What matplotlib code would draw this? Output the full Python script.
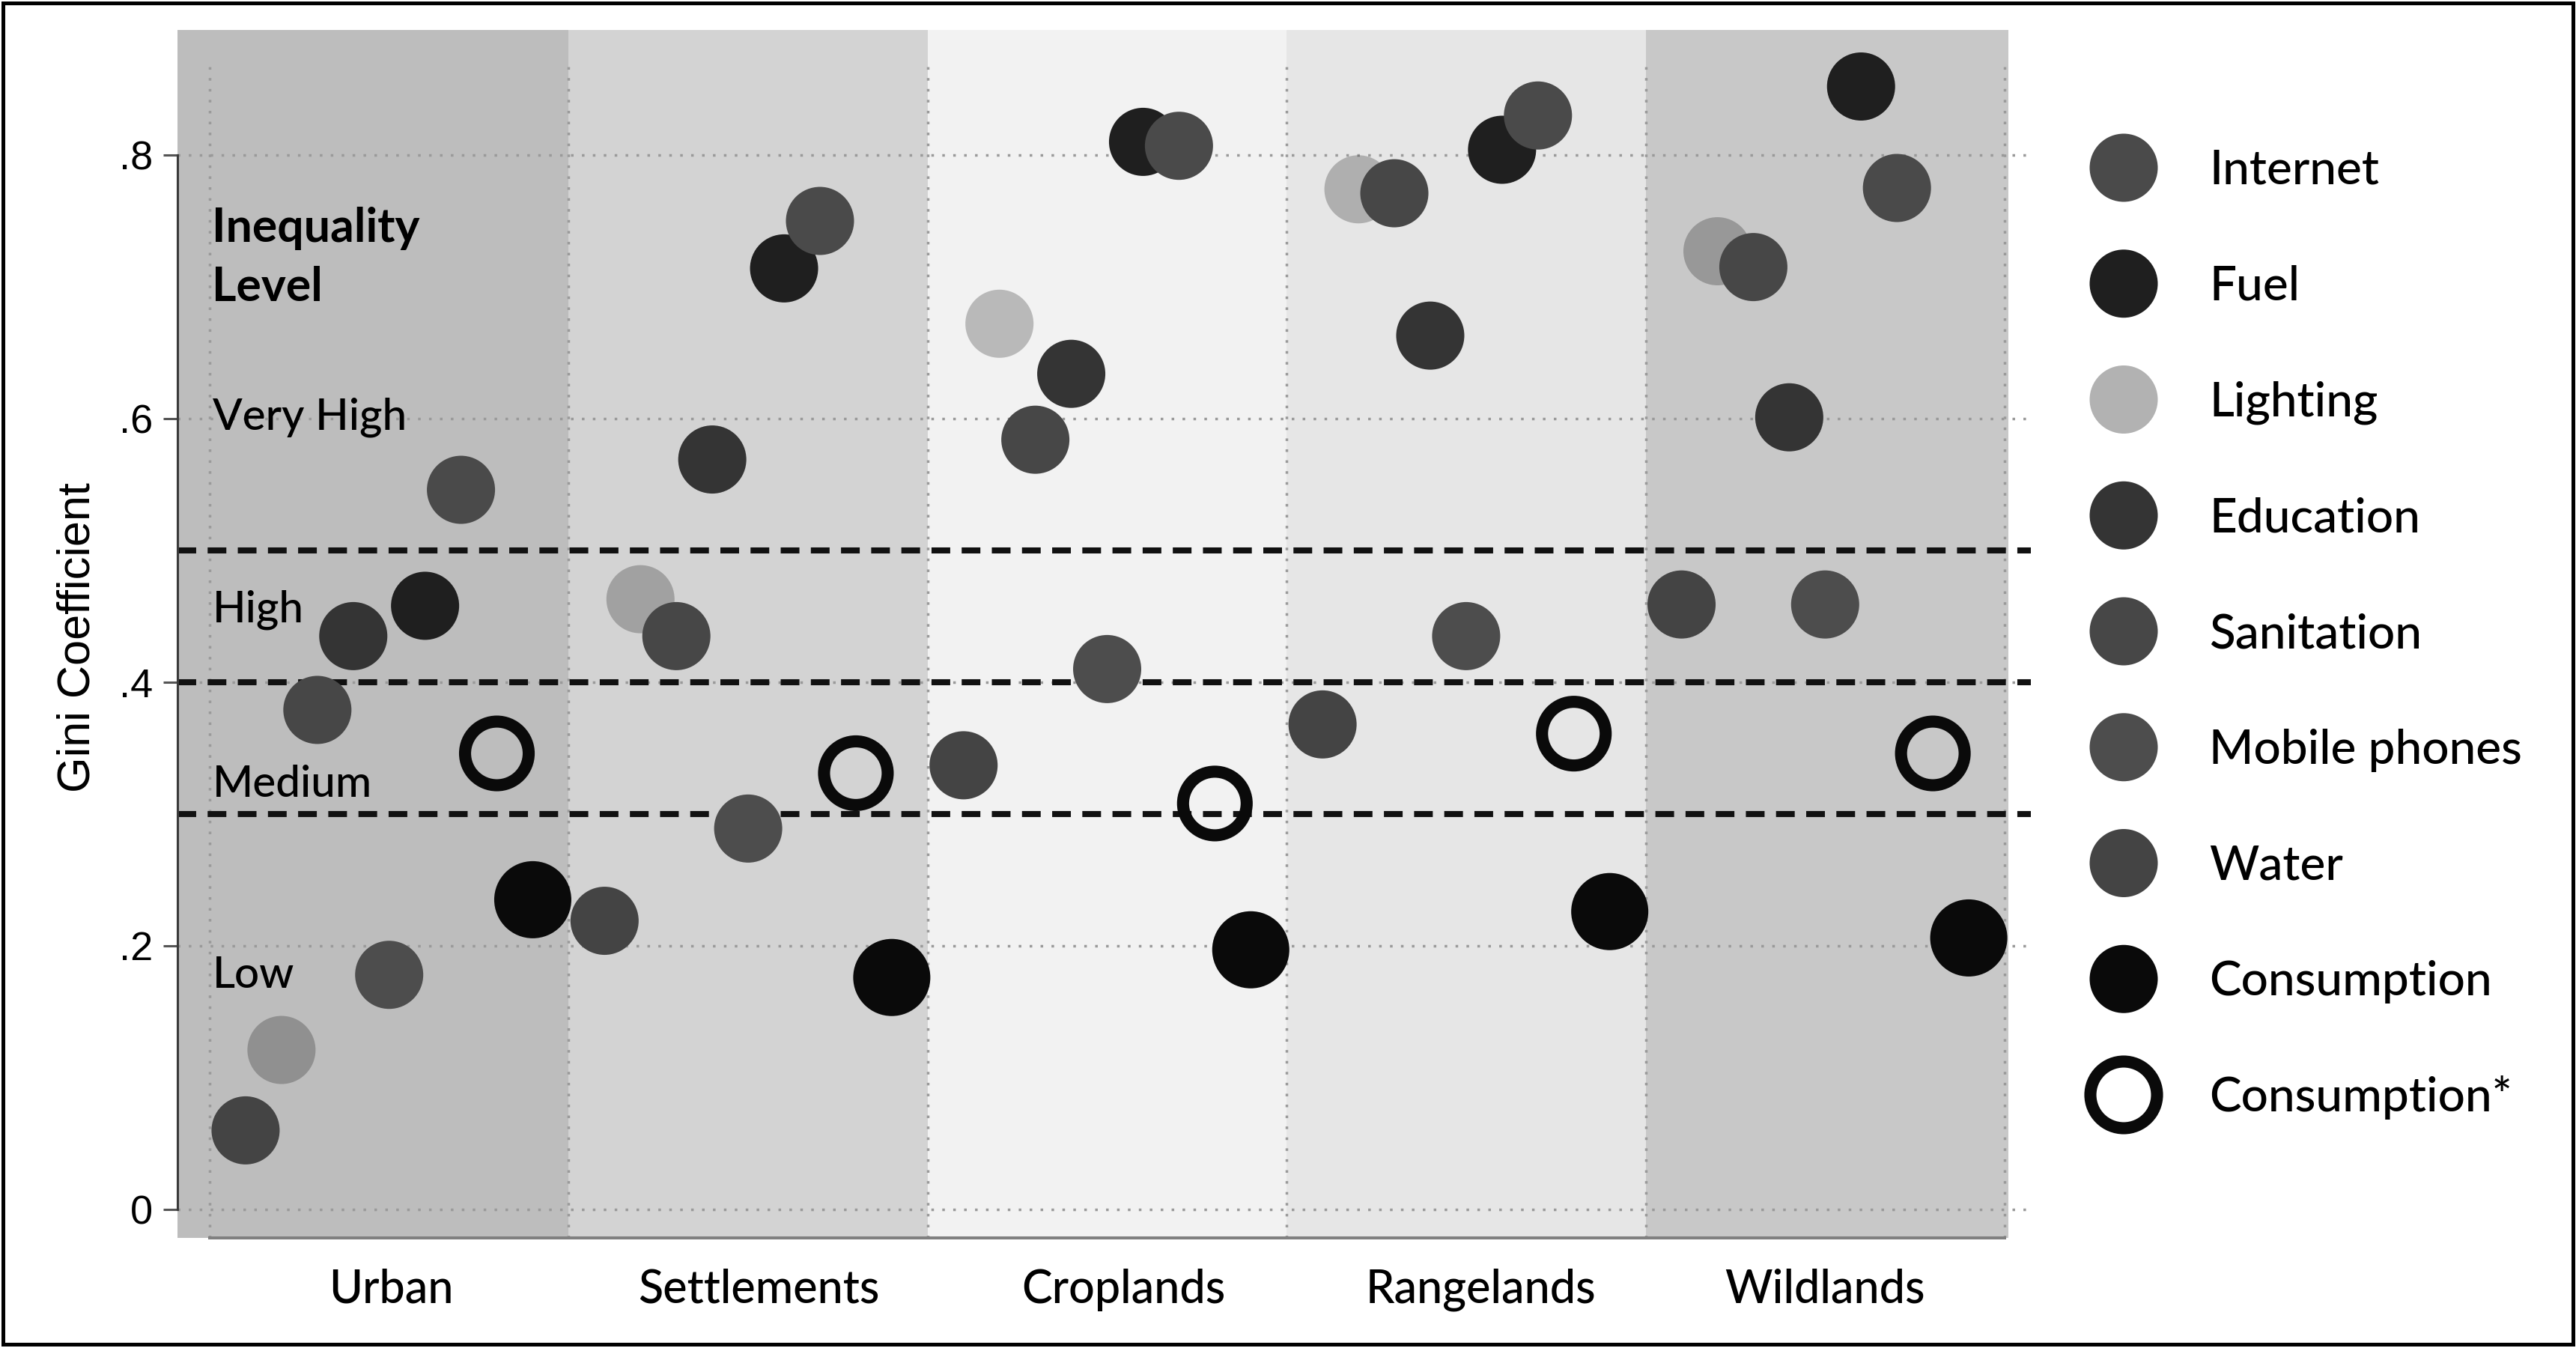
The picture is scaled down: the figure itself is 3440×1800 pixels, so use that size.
import matplotlib.pyplot as plt
from matplotlib.patches import Rectangle

# ---- data ----
categories = ["Urban", "Settlements", "Croplands", "Rangelands", "Wildlands"]

internet = [0.546, 0.750, 0.807, 0.830, 0.775]
fuel = [0.458, 0.714, 0.810, 0.804, 0.852]
lighting = [0.121, 0.463, 0.672, 0.774, 0.727]
education = [0.435, 0.569, 0.634, 0.663, 0.601]
sanitation = [0.379, 0.435, 0.584, 0.771, 0.715]
mobile_phones = [0.178, 0.289, 0.410, 0.435, 0.459]
water = [0.060, 0.219, 0.337, 0.368, 0.459]
consumption = [0.235, 0.176, 0.197, 0.226, 0.206]
consumption_star = [0.346, 0.331, 0.308, 0.361, 0.346]

level_names = ["Very High", "High", "Medium", "Low"]
level_cuts = [0.3, 0.4, 0.5]
yticks = [0, 0.2, 0.4, 0.6, 0.8]
ytick_labels = ["0", ".2", ".4", ".6", ".8"]

# ---- styling ----
W, H, DPI = 3440, 1800, 200
CAL = "Lato"
ARI = "Liberation Sans"
MED = 500

dot = dict(s=1073, edgecolors="none")
series = [
    # name, values, slot within panel, style
    ("Water", water, 0, dict(color="#444444", **dot)),
    ("Lighting", lighting, 1, dict(color="black", alpha=0.235, **dot)),
    ("Sanitation", sanitation, 2, dict(color="#474747", **dot)),
    ("Education", education, 3, dict(color="#343434", **dot)),
    ("Mobile phones", mobile_phones, 4, dict(color="#4d4d4d", **dot)),
    ("Fuel", fuel, 5, dict(color="#1f1f1f", **dot)),
    ("Internet", internet, 6, dict(color="#4a4a4a", **dot)),
    ("Consumption*", consumption_star, 7,
     dict(s=936, facecolors="none", edgecolors="#0a0a0a", linewidths=5.8)),
    ("Consumption", consumption, 8, dict(s=1375, color="#0a0a0a", edgecolors="none")),
]
legend_order = ["Internet", "Fuel", "Lighting", "Education", "Sanitation",
                "Mobile phones", "Water", "Consumption", "Consumption*"]

panel_shades = ["#bdbdbd", "#d3d3d3", "#f2f2f2", "#e6e6e6", "#c8c8c8"]
grid_style = dict(color="#9a9a9a", lw=1.25, linestyle=(0, (1, 3.2)), zorder=1)

fig = plt.figure(figsize=(W / DPI, H / DPI), dpi=DPI)
ax = fig.add_axes([237 / W, 1 - 1653 / H, 2475 / W, 1613 / H])
x_left, x_right = -0.0897, 5.073
ax.set_xlim(x_left, x_right)
ax.set_ylim(-0.0216, 0.8949)

# land-use panels
for k, shade in enumerate(panel_shades):
    lo = x_left if k == 0 else k
    hi = k + 1.01 if k == len(panel_shades) - 1 else k + 1
    ax.axvspan(lo, hi, color=shade, lw=0, zorder=0)

for v in yticks:
    ax.axhline(v, **grid_style)
ax.vlines(range(len(categories) + 1), -0.0216, 0.870, **grid_style)

for c in level_cuts:
    ax.axhline(c, color="#111111", lw=2.9, linestyle=(0, (3.1, 1.9)), zorder=2)

for name, vals, slot, style in series:
    xs = [k + (slot + 1) / 10 for k in range(len(categories))]
    ax.scatter(xs, vals, zorder=3, **style)

# level annotations
ax.text(0.006, 0.734, "Inequality", fontsize=22.5, fontweight="bold",
        family=CAL, va="baseline", zorder=5)
ax.text(0.006, 0.689, "Level", fontsize=22.5, fontweight="bold",
        family=CAL, va="baseline", zorder=5)
for name, y in zip(level_names, [0.592, 0.446, 0.313, 0.168]):
    ax.text(0.008, y, name, fontsize=21, fontweight=MED, family=CAL,
            va="baseline", zorder=5)

# axes
for side in ["top", "right"]:
    ax.spines[side].set_visible(False)
ax.spines["left"].set_bounds(0, 0.8)
ax.spines["left"].set_color("#3a3a3a")
ax.spines["left"].set_linewidth(1.1)
ax.spines["bottom"].set_bounds(0, 5)
ax.spines["bottom"].set_color("#808080")
ax.spines["bottom"].set_linewidth(1.45)
ax.set_yticks(yticks)
ax.set_yticklabels(ytick_labels, family=ARI, fontsize=19.5)
ax.tick_params(axis="y", length=6.8, width=1.1, color="#555555", pad=5)
ax.set_xticks([])

label_x = [0.505, 1.53, 2.545, 3.54, 4.5]
tr = ax.get_xaxis_transform()
for cat, lx in zip(categories, label_x):
    ax.text(lx, -0.0539, cat, transform=tr, fontsize=22, fontweight=MED,
            family=CAL, ha="center", va="baseline")

fig.text(104 / W, 1 - 851 / H, "Gini Coefficient", rotation=90, ha="center",
         va="center", fontsize=22, family=ARI)

# legend and frame (figure pixel space)
lax = fig.add_axes([0, 0, 1, 1])
lax.set_xlim(0, W)
lax.set_ylim(H, 0)
lax.axis("off")
styles = {name: style for name, _, _, style in series}
for i, name in enumerate(legend_order):
    yy = 224 + 154.75 * i
    st = dict(styles[name])
    if name == "Lighting":
        st["alpha"] = 0.3
    if name == "Consumption":
        st["s"] = 1073
    if name == "Consumption*":
        st["s"] = 1027
    lax.scatter([2836], [yy], **st)
    lax.text(2950, yy + 22, name, fontsize=23, fontweight=MED, family=CAL,
             va="baseline")

lax.add_patch(Rectangle((4, 4), W - 8, H - 9, fill=False, lw=1.8, ec="black"))

fig.savefig("out.png", dpi=DPI)
